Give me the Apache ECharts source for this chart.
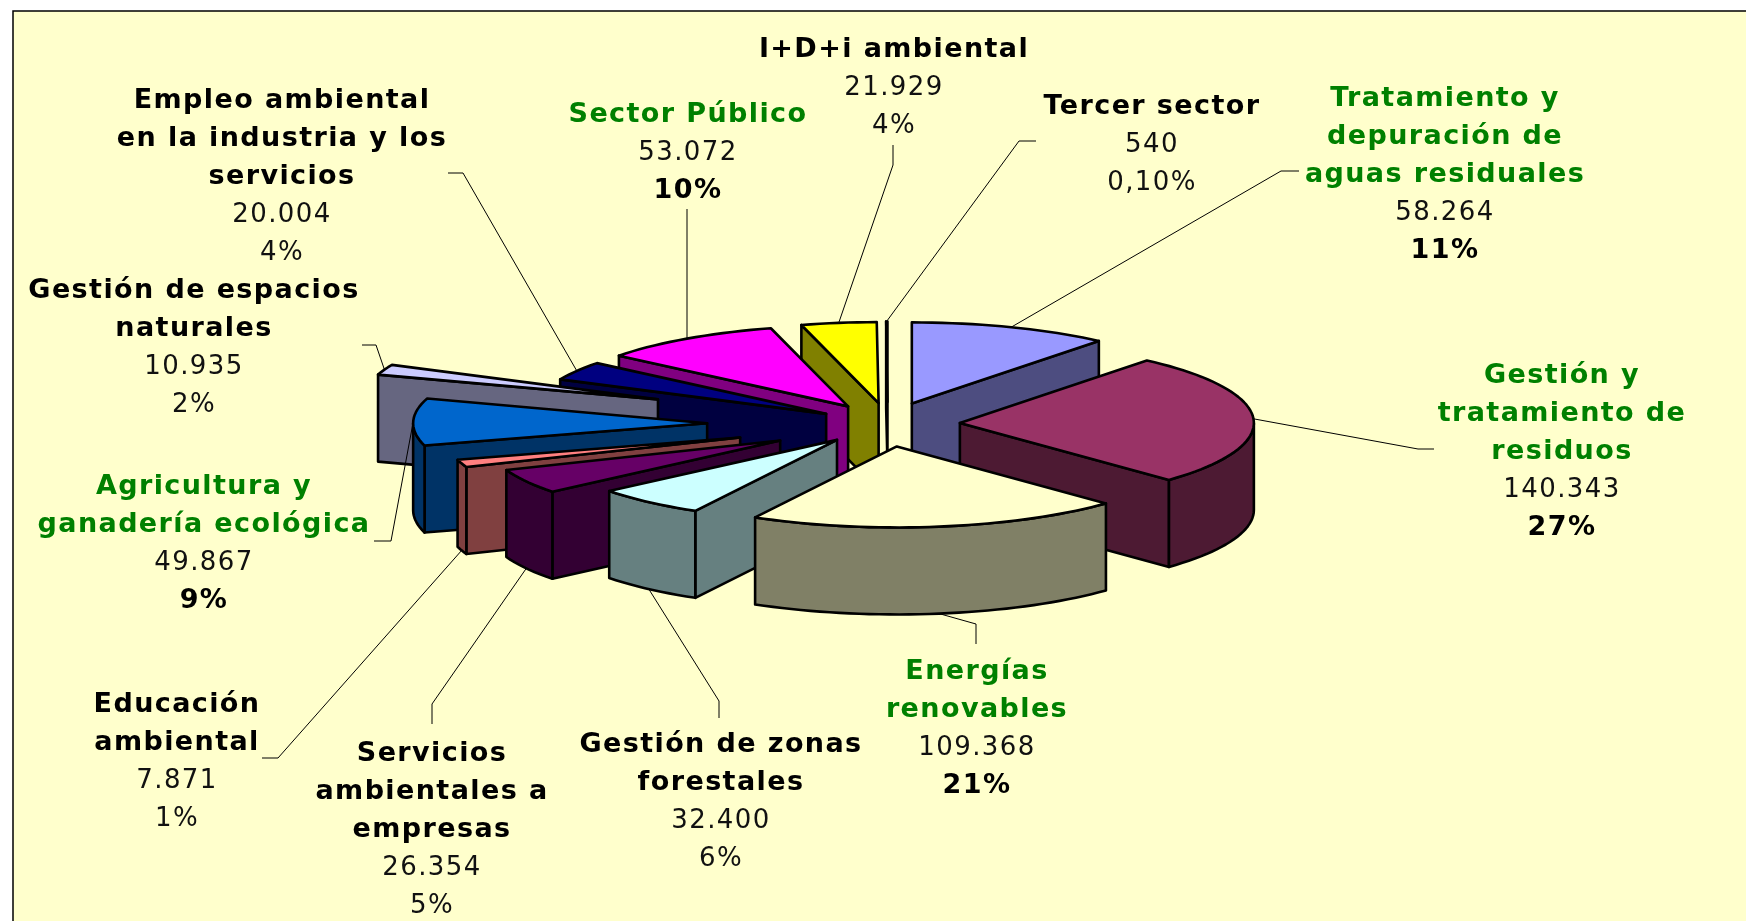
<!DOCTYPE html>
<html>
<head>
<meta charset="utf-8">
<style>html,body{margin:0;padding:0;background:#fff;overflow:hidden}#c{width:1746px;height:921px}</style>
<script>
// the reference's labels are set with wide tracking: apply it to every 2D context
(function () {
  const orig = HTMLCanvasElement.prototype.getContext;
  HTMLCanvasElement.prototype.getContext = function (type, opts) {
    const ctx = orig.call(this, type, opts);
    if (type === '2d' && ctx && 'letterSpacing' in ctx) ctx.letterSpacing = '1.4px';
    return ctx;
  };
})();
</script>
<script src="https://cdn.jsdelivr.net/npm/echarts@6/dist/echarts.min.js"></script>
</head>
<body>
<div id="c"></div>
<script>
// ---- data ----
const names = [
  'Tratamiento y\ndepuración de\naguas residuales',
  'Gestión y\ntratamiento de\nresiduos',
  'Energías\nrenovables',
  'Gestión de zonas\nforestales',
  'Servicios\nambientales a\nempresas',
  'Educación\nambiental',
  'Agricultura y\nganadería ecológica',
  'Gestión de espacios\nnaturales',
  'Empleo ambiental\nen la industria y los\nservicios',
  'Sector Público',
  'I+D+i ambiental',
  'Tercer sector'
];
const values = [58264, 140343, 109368, 32400, 26354, 7871, 49867, 10935, 20004, 53072, 21929, 540];
const percents = ['11%', '27%', '21%', '6%', '5%', '1%', '9%', '2%', '4%', '10%', '4%', '0,10%'];
// ---- styles ----
const topColors = ['#9999FF','#993366','#FFFFCC','#CCFFFF','#660066','#FF8080','#0066CC','#CCCCFF','#000080','#FF00FF','#FFFF00','#FFFFCC'];
const sideColors = ['#4D4D80','#4D1A33','#808066','#668080','#330033','#804040','#003366','#666680','#000040','#800080','#808000','#FFFFCC'];
const highlighted = [true, true, true, false, false, false, true, false, false, true, false, false];
// ---- layout ----
const explode = [0.27, 0.255, 0.28, 0.255, 0.405, 0.52, 0.605, 0.83, 0.236, 0.26, 0.26, 0.27];
const nudgeX = [0, 0, 0, 0, -2, 0, 0, 0, 0, 5, 4, 3];
const labelAt = [[1445,80],[1562,357],[977,653],[721,726],[432,735],[177,686],[204,468],[194,272],[282,82],[688,96],[894,31],[1152,88]];
const leaderVia = [
  [[1281,171],[1299,171]], [[1418,449],[1434,449]], [[976,624],[976,644]], [[719,701],[719,718]],
  [[432,704],[432,724]], [[278,758],[262,758]], [[391,541],[374,541]], [[376,345],[362,345]],
  [[463,173],[448,173]], [[687,209]], [[893,165],[893,145]], [[1019,141],[1036,141]]
];
const CX = 885, CY = 424, RX = 294, RY = 81, H = 87;

const total = values.reduce((a, b) => a + b, 0);
let acc = 0;
const slices = values.map((v, i) => {
  const a0 = acc / total * 360; acc += v;
  const a1 = acc / total * 360;
  const m = (a0 + a1) / 2;
  const rad = m * Math.PI / 180;
  return { i, a0, a1, m,
    ax: CX + nudgeX[i] + explode[i] * RX * Math.sin(rad),
    ay: CY - explode[i] * RY * Math.cos(rad) };
});
const rim = (s, deg, dz) => {
  const r = deg * Math.PI / 180;
  return [s.ax + RX * Math.sin(r), s.ay - RY * Math.cos(r) + (dz || 0)];
};
const arc = (s, from, to, dz) => {
  const pts = [], n = Math.max(2, Math.ceil((to - from) / 2));
  for (let k = 0; k <= n; k++) pts.push(rim(s, from + (to - from) * k / n, dz));
  return pts;
};
// paint back to front: the further a slice's middle is from the back, the later it is drawn
const painted = slices.slice().sort((p, q) =>
  Math.min(p.m, 360 - p.m) - Math.min(q.m, 360 - q.m));

const lineStyle = (fill, w) => ({ fill, stroke: '#000', lineWidth: w, lineJoin: 'round' });
const poly = (points, fill, w) => ({ type: 'polygon', shape: { points }, style: lineStyle(fill, w || 2.6), silent: true });

function renderSlice(params) {
  const s = painted[params.dataIndex], side = sideColors[s.i], kids = [];
  const w = (s.a1 - s.a0) < 1 ? 2 : 2.6;
  const apex = [s.ax, s.ay], apexB = [s.ax, s.ay + H];
  const sin0 = Math.sin(s.a0 * Math.PI / 180), sin1 = Math.sin(s.a1 * Math.PI / 180);
  if (sin0 < 0) kids.push(poly([apex, rim(s, s.a0), rim(s, s.a0, H), apexB], side, w));
  if (sin1 > 0) kids.push(poly([apex, rim(s, s.a1), rim(s, s.a1, H), apexB], side, w));
  const from = Math.max(s.a0, 90), to = Math.min(s.a1, 270);
  if (to > from) kids.push(poly(arc(s, from, to, 0).concat(arc(s, from, to, H).reverse()), side, w));
  kids.push(poly([apex].concat(arc(s, s.a0, s.a1, 0)), topColors[s.i], w));
  return { type: 'group', children: kids };
}

const fmt = v => String(v).replace(/\B(?=(\d{3})+$)/g, '.');
const FONT = '"DejaVu Sans"';
function renderLabel(params) {
  const i = params.dataIndex, s = slices[i];
  const front = -Math.cos(s.m * Math.PI / 180) > 0.2;
  const anchor = rim(s, s.m, front ? H : 0);
  const pts = [anchor].concat(leaderVia[i]);
  const head = highlighted[i] ? 'g' : 'n';
  const pc = highlighted[i] ? 'b' : 'v';
  const txt = names[i].split('\n').map(l => `{${head}|${l}}`).join('\n')
    + `\n{v|${fmt(values[i])}}\n{${pc}|${percents[i]}}`;
  return { type: 'group', children: [
    { type: 'polyline', shape: { points: pts }, style: { fill: null, stroke: '#000', lineWidth: 1 }, silent: true },
    { type: 'text', x: labelAt[i][0], y: labelAt[i][1], silent: true,
      style: { text: txt, align: 'center', verticalAlign: 'top', rich: {
        g: { font: `bold 27px ${FONT}`, fill: '#008000', lineHeight: 38, align: 'center' },
        n: { font: `bold 27px ${FONT}`, fill: '#000', lineHeight: 38, align: 'center' },
        v: { font: `26px ${FONT}`, fill: '#111', lineHeight: 38, align: 'center' },
        b: { font: `bold 27px ${FONT}`, fill: '#000', lineHeight: 38, align: 'center' }
      } } }
  ] };
}

const chart = echarts.init(document.getElementById('c'), null, { renderer: 'canvas' });
chart.setOption({
  animation: false,
  backgroundColor: '#fff',
  graphic: [{ type: 'rect', z: -10, shape: { x: 13, y: 11, width: 1800, height: 1000 },
              style: { fill: '#FFFFCC', stroke: '#000', lineWidth: 1.5 }, silent: true }],
  series: [
    { type: 'custom', coordinateSystem: 'none', z: 2, renderItem: renderSlice,
      data: painted.map(s => ({ name: names[s.i], value: values[s.i] })) },
    { type: 'custom', coordinateSystem: 'none', z: 3, renderItem: renderLabel,
      data: names.map((n, i) => ({ name: n, value: values[i] })) }
  ]
});
</script>
</body>
</html>
